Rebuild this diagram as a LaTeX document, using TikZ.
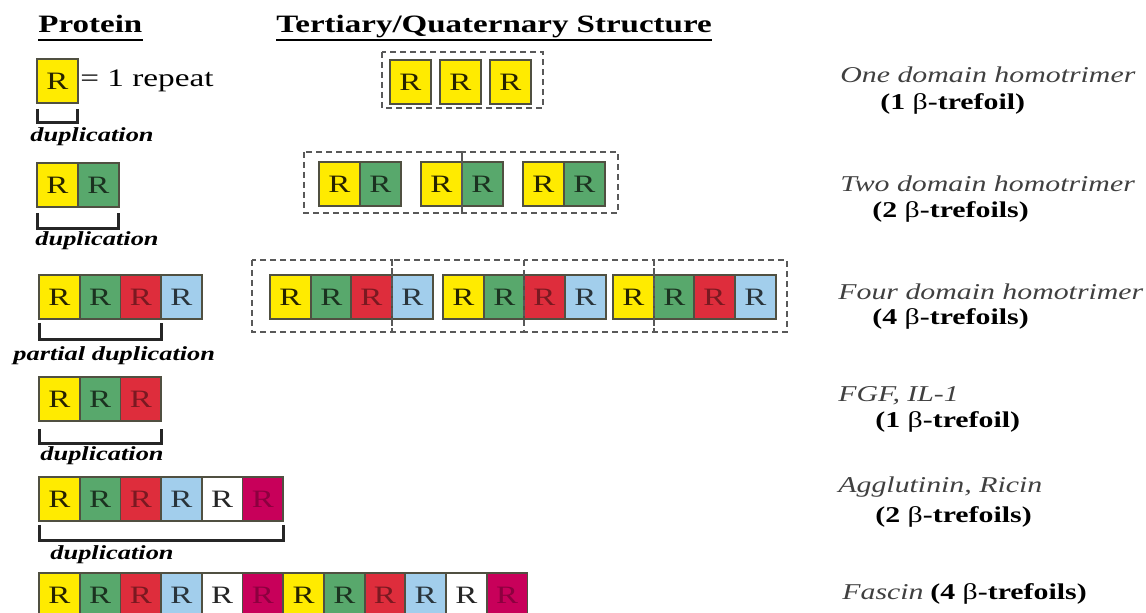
\documentclass[tikz,border=0pt]{standalone}
\usepackage{fontspec}
\setmainfont{Liberation Serif}[FakeStretch=1.32]
\usetikzlibrary{positioning,calc}
\definecolor{repyellow}{RGB}{255,235,0}
\definecolor{repgreen}{RGB}{88,168,108}
\definecolor{repred}{RGB}{222,45,60}
\definecolor{repblue}{RGB}{162,206,236}
\definecolor{repmag}{RGB}{200,0,90}
\definecolor{boxline}{RGB}{80,80,65}

\begin{document}
\begin{tikzpicture}[x=0.5pt,y=-0.5pt,
    rep/.style={draw=boxline,line width=0.9pt,minimum width=20.4pt,
                minimum height=22pt,inner sep=0pt,outer sep=0pt,
                anchor=north west,font=\fontsize{12.5}{12.5}\selectfont},
    ry/.style={rep,fill=repyellow,text=repyellow!15!black},
    rg/.style={rep,fill=repgreen,text=repgreen!30!black},
    rr/.style={rep,fill=repred,text=repred!55!black},
    rb/.style={rep,fill=repblue,text=repblue!25!black},
    rw/.style={rep,fill=white,text=black!85},
    rm/.style={rep,fill=repmag,text=repmag!70!black},
    brk/.style={line width=1.5pt,black!85},
    grp/.style={draw=black!65,line width=0.7pt,dash pattern=on 3pt off 2pt},
    dup/.style={anchor=base west,inner sep=0pt,
                font=\fontsize{10}{12}\selectfont\bfseries\itshape},
    protname/.style={anchor=base west,inner sep=0pt,text=black!75,
                font=\fontsize{11.3}{13}\selectfont\itshape},
    nbtrf/.style={anchor=base west,inner sep=0pt,
                font=\fontsize{11.3}{13}\selectfont\bfseries},
    colhead/.style={anchor=base west,inner sep=0pt,
                font=\fontsize{12.5}{14}\selectfont\bfseries}]
  \useasboundingbox (0,0) rectangle (1146,613);
  \clip (0,0) rectangle (1146,613);

  \node[colhead] (hprot) at (38,33) {Protein};
  \node[colhead] (hstruct) at (276,33) {Tertiary/Quaternary Structure};
  \draw[line width=1pt] ([yshift=-3.5pt]hprot.base west) -- ([yshift=-3.5pt]hprot.base east);
  \draw[line width=1pt] ([yshift=-3.5pt]hstruct.base west) -- ([yshift=-3.5pt]hstruct.base east);

  % protein column
  \node[ry] (p1-1) at (37,59) {R};
  \node[anchor=base west,inner sep=0pt,font=\fontsize{12.6}{14}\selectfont]
    (onerep) at (80,87) {= 1 repeat};
  \foreach \c [count=\i] in {ry,rg}
    \node[\c] (p2-\i) at ({37+41*(\i-1)},163) {R};
  \foreach \c [count=\i] in {ry,rg,rr,rb}
    \node[\c] (p3-\i) at ({39+40.7*(\i-1)},275) {R};
  \foreach \c [count=\i] in {ry,rg,rr}
    \node[\c] (p4-\i) at ({39+40.7*(\i-1)},377) {R};
  \foreach \c [count=\i] in {ry,rg,rr,rb,rw,rm}
    \node[\c] (p5-\i) at ({39+40.7*(\i-1)},477) {R};
  \foreach \c [count=\i] in {ry,rg,rr,rb,rw,rm,ry,rg,rr,rb,rw,rm}
    \node[\c] (p6-\i) at ({39+40.7*(\i-1)},573) {R};

  \draw[brk] ([yshift=-3pt]p1-1.south west) -- ++(0,-7pt) -| ([yshift=-3pt]p1-1.south east);
  \draw[brk] ([yshift=-3pt]p2-1.south west) -- ++(0,-8pt) -| ([yshift=-3pt]p2-2.south east);
  \draw[brk] ([yshift=-2pt]p3-1.south west) -- ++(0,-8.5pt) -| ([yshift=-2pt]p3-3.south east);
  \draw[brk] ([yshift=-4pt]p4-1.south west) -- ++(0,-7.5pt) -| ([yshift=-4pt]p4-3.south east);
  \draw[brk] ([yshift=-2pt]p5-1.south west) -- ++(0,-8pt) -| ([yshift=-2pt]p5-6.south east);

  \node[dup] (dup1) at (30,142) {duplication};
  \node[dup] (dup2) at (35,246) {duplication};
  \node[dup] (dup3) at (13,361) {partial duplication};
  \node[dup] (dup4) at (40,461) {duplication};
  \node[dup] (dup5) at (50,560) {duplication};

  % tertiary / quaternary column
  \foreach \i in {1,2,3}
    \node[ry] (t1-\i) at ({390+50*(\i-1)},60) {R};
  \draw[grp] ([shift={(-4pt,4pt)}]t1-1.north west) rectangle ([shift={(6pt,-2pt)}]t1-3.south east);

  \foreach \c/\x [count=\i] in {ry/319,rg/360,ry/421,rg/462,ry/523,rg/564}
    \node[\c] (t2-\i) at (\x,162) {R};
  \draw[grp] ([shift={(-7.5pt,5pt)}]t2-1.north west) rectangle ([yshift=-3.5pt]t2-4.south west);
  \draw[grp] ([yshift=5pt]t2-4.north west) rectangle ([shift={(6.5pt,-3.5pt)}]t2-6.south east);

  \foreach \c/\x [count=\i] in {ry/270,rg/311,rr/351,rb/392,ry/443,rg/484,rr/524,rb/565,
                                ry/613,rg/654,rr/694,rb/735}
    \node[\c] (t3-\i) at (\x,275) {R};
  \draw[grp] ([shift={(-9pt,7.5pt)}]t3-1.north west) rectangle ([yshift=-6.5pt]t3-4.south west);
  \draw[grp] ([yshift=7.5pt]t3-4.north west) rectangle ([yshift=-6.5pt]t3-7.south west);
  \draw[grp] ([yshift=7.5pt]t3-7.north west) rectangle ([yshift=-6.5pt]t3-10.south west);
  \draw[grp] ([yshift=7.5pt]t3-10.north west) rectangle ([shift={(5.5pt,-6.5pt)}]t3-12.south east);

  % names
  \node[protname] (n1) at (840,83) {One domain homotrimer};
  \node[nbtrf] (c1) at (880,110) {(1 {\mdseries β}-trefoil)};
  \node[protname] (n2) at (840,192) {Two domain homotrimer};
  \node[nbtrf] (c2) at (872,218) {(2 {\mdseries β}-trefoils)};
  \node[protname] (n3) at (838,300) {Four domain homotrimer};
  \node[nbtrf] (c3) at (872,325) {(4 {\mdseries β}-trefoils)};
  \node[protname] (n4) at (838,402) {FGF, IL-1};
  \node[nbtrf] (c4) at (875,428) {(1 {\mdseries β}-trefoil)};
  \node[protname] (n5) at (838,493) {Agglutinin, Ricin};
  \node[nbtrf] (c5) at (875,523) {(2 {\mdseries β}-trefoils)};
  \node[protname] (n6) at (842,600) {Fascin};
  \node[nbtrf,right=3pt of n6.base east,anchor=base west] (c6) {(4 {\mdseries β}-trefoils)};
\end{tikzpicture}
\end{document}
